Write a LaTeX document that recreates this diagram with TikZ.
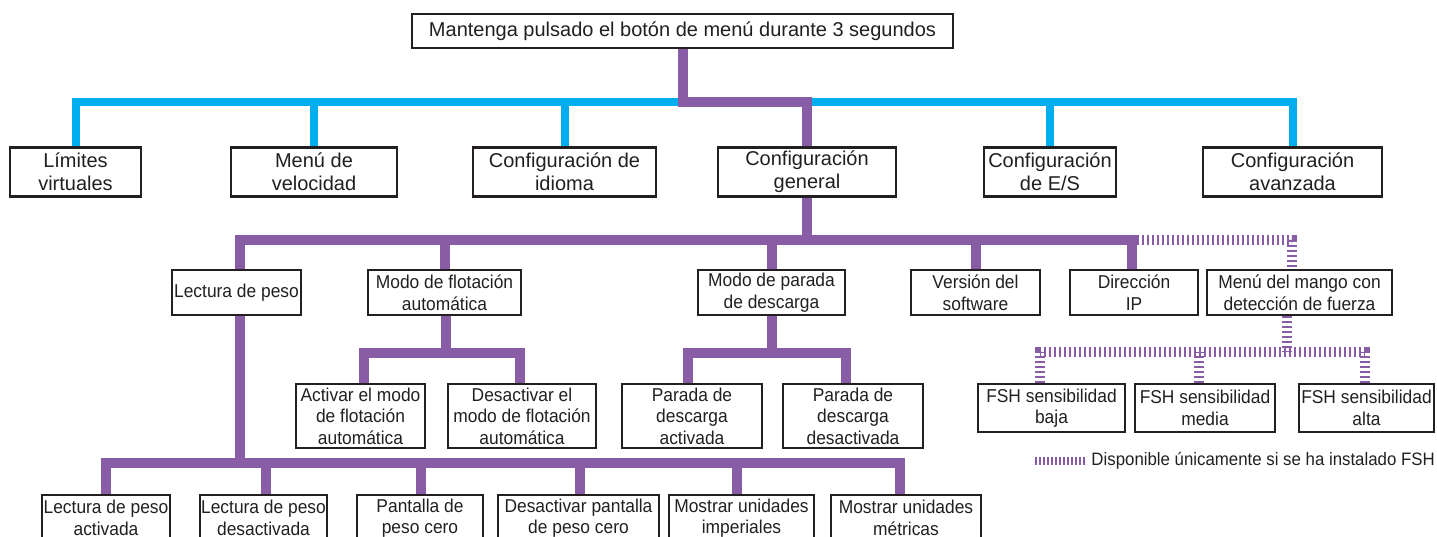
\documentclass[tikz,border=0pt]{standalone}
\usepackage{fontspec}
\setmainfont{Liberation Sans}
\newfontfamily\narrowsans[FakeStretch=0.935]{Liberation Sans}
\pgfdeclarelayer{bg}
\pgfsetlayers{bg,main}
\definecolor{ink}{RGB}{35,31,32}
\definecolor{purp}{RGB}{137,92,166}
\definecolor{cyanb}{RGB}{0,174,239}
\tikzset{
  box/.style={draw=ink, line width=2.5pt, fill=white, text=ink, inner sep=0pt, align=center,
    font=\narrowsans\fontsize{18.6}{21.6}\selectfont},
  bigbox/.style={box, font=\rmfamily\fontsize{20}{23}\selectfont},
  pl/.style={draw=purp, line width=10pt},
  bl/.style={draw=cyanb, line width=8pt},
  fsh/.style={draw=purp, line width=10pt, dash pattern=on 2pt off 3pt},
  legline/.style={draw=purp, line width=8pt, dash pattern=on 2pt off 2pt},
}
\begin{document}
\begin{tikzpicture}[x=1pt,y=-1pt]
\useasboundingbox (0,0) rectangle (1437,536);
\clip (0,0) rectangle (1437,536);

% level coordinates
\coordinate (L1) at (0,102);
\coordinate (L2) at (0,240);
\coordinate (L3) at (0,353);
\coordinate (L4) at (0,463);
\coordinate (Lf) at (0,352);

% top
\node[bigbox, minimum width=541, minimum height=34] (top) at (682.5,31) {Mantenga pulsado el botón de menú durante 3 segundos};

% row 2
\node[bigbox, minimum width=131, minimum height=49] (lim) at (75.5,172) {Límites\\virtuales};
\node[bigbox, minimum width=166, minimum height=49] (vel) at (314,172) {Menú de\\velocidad};
\node[bigbox, minimum width=183, minimum height=49] (idi) at (564.5,172) {Configuración de\\idioma};
\node[bigbox, minimum width=178, minimum height=49] (gen) at (807,172) {Configuración\\general};
\node[bigbox, minimum width=132, minimum height=49] (es) at (1050,172) {Configuración\\de E/S};
\node[bigbox, minimum width=179, minimum height=49] (ava) at (1292.5,172) {Configuración\\avanzada};

% row 3
\node[box, minimum width=129, minimum height=45] (lec) at (236.5,292.5) {Lectura de peso};
\node[box, minimum width=153, minimum height=45] (flo) at (444.5,292.5) {Modo de flotación\\automática};
\node[box, minimum width=147, minimum height=45] (par) at (771.5,292.5) {Modo de parada\\de descarga};
\node[box, minimum width=129, minimum height=45] (ver) at (975.5,292.5) {Versión del\\software};
\node[box, minimum width=128, minimum height=45] (ip) at (1134,292.5) {Dirección\\IP};
\node[box, minimum width=185, minimum height=45] (mango) at (1299.5,292.5) {Menú del mango con\\detección de fuerza};

% row 4
\node[box, minimum width=129, minimum height=64] (act) at (360.5,416) {Activar el modo\\de flotación\\automática};
\node[box, minimum width=148, minimum height=64] (des) at (522,416) {Desactivar el\\modo de flotación\\automática};
\node[box, minimum width=140, minimum height=64] (pa) at (692,416) {Parada de\\descarga\\activada};
\node[box, minimum width=140, minimum height=64] (pd) at (853,416) {Parada de\\descarga\\desactivada};
\node[box, minimum width=147, minimum height=48] (fb) at (1051.5,408) {FSH sensibilidad\\baja};
\node[box, minimum width=140, minimum height=48] (fm) at (1205,408) {FSH sensibilidad\\media};
\node[box, minimum width=135, minimum height=48] (fa) at (1366.5,408) {FSH sensibilidad\\alta};

% row 5
\node[box, minimum width=128, minimum height=46] (lpa) at (106,518) {Lectura de peso\\activada};
\node[box, minimum width=127, minimum height=46] (lpd) at (263.5,518) {Lectura de peso\\desactivada};
\node[box, minimum width=126, minimum height=46] (ppc) at (420,518) {Pantalla de\\peso cero};
\node[box, minimum width=161, minimum height=46] (dpc) at (578.5,518) {Desactivar pantalla\\de peso cero};
\node[box, minimum width=145, minimum height=46] (mui) at (741.5,518) {Mostrar unidades\\imperiales};
\node[box, minimum width=150, minimum height=46] (mum) at (906,518) {Mostrar unidades\\métricas};

% legend
\node[anchor=east, inner sep=0pt, text=ink, font=\narrowsans\fontsize{18}{20}\selectfont] (leg) at (1435,461) {Disponible únicamente si se ha instalado FSH};

\begin{pgfonlayer}{bg}
  % blue level
  \draw[bl] (lim.north) |- (ava.north |- L1) -- (ava.north);
  \foreach \n in {vel,idi,es} \draw[bl] (\n.north) -- (\n.north |- L1);
  % purple to general
  \draw[pl] (top.south) |- (gen.north |- L1) -- (gen.north);
  % general children
  \draw[pl] (gen.south) -- (gen.south |- L2);
  \draw[pl] ([xshift=3.5pt]lec.north) |- ([xshift=-2pt]ip.north |- L2) -- ([xshift=-2pt]ip.north);
  \foreach \n in {flo,par,ver} \draw[pl] (\n.north) -- (\n.north |- L2);
  % flotacion children
  \draw[pl] ([xshift=1.5pt]flo.south) -- ([xshift=1.5pt]flo.south |- L3);
  \draw[pl] ([xshift=3.5pt]act.north) |- ([xshift=-2pt]des.north |- L3) -- ([xshift=-2pt]des.north);
  % parada children
  \draw[pl] (par.south) -- (par.south |- L3);
  \draw[pl] ([xshift=-4pt]pa.north) |- ([xshift=-7pt]pd.north |- L3) -- ([xshift=-7pt]pd.north);
  % lectura children
  \draw[pl] ([xshift=3.5pt]lec.south) -- ([xshift=3.5pt]lec.south |- L4);
  \draw[pl] (lpa.north) |- ([xshift=-6pt]mum.north |- L4) -- ([xshift=-6pt]mum.north);
  \draw[pl] ([xshift=2.5pt]lpd.north) -- ([xshift=2.5pt]lpd.north |- L4);
  \draw[pl] ([xshift=1pt]ppc.north) -- ([xshift=1pt]ppc.north |- L4);
  \draw[pl] ([xshift=1.5pt]dpc.north) -- ([xshift=1.5pt]dpc.north |- L4);
  \draw[pl] ([xshift=-4.5pt]mui.north) -- ([xshift=-4.5pt]mui.north |- L4);
  % FSH (optional) branch
  \draw[fsh] ([xshift=3pt]ip.north |- L2) -| ([xshift=-7.5pt]mango.north);
  \draw[fsh] ([xshift=-12.5pt]mango.south) -- ([xshift=-12.5pt]mango.south |- Lf);
  \draw[fsh] ([xshift=-11.5pt]fb.north) |- ([xshift=-1.5pt]fa.north |- Lf) -- ([xshift=-1.5pt]fa.north);
  \draw[fsh] ([xshift=-6pt]fm.north) -- ([xshift=-6pt]fm.north |- Lf);
  % legend sample
  \draw[legline] ([xshift=-6pt]leg.west) -- ++(-50,0);
\end{pgfonlayer}
\end{tikzpicture}
\end{document}
